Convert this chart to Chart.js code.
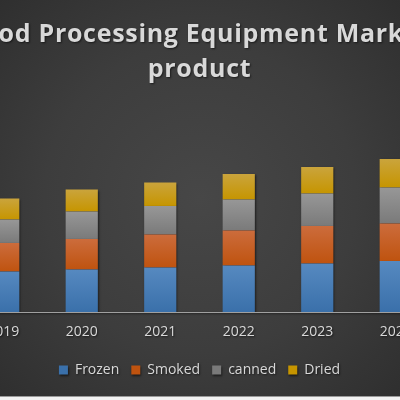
<!DOCTYPE html>
<html>
<head>
<meta charset="utf-8">
<script src="https://cdn.jsdelivr.net/npm/chart.js@4.4.1/dist/chart.umd.min.js"></script>
<style>
  html, body { margin: 0; padding: 0; width: 400px; height: 400px; overflow: hidden; background: #f2f2f2; }
  #frame { position: absolute; left: 0; top: 0; width: 400px; height: 396px; overflow: hidden;
           background: radial-gradient(ellipse at 50% 50%, #474747 0%, #3d3d3d 55%, #2f2f2f 100%);
           border-bottom: 1px solid #9a9a9a; }
  #wrap { position: absolute; left: -36px; top: 0; width: 471px; height: 396px; }
</style>
</head>
<body>
<div id="frame"><div id="wrap"><canvas id="c"></canvas></div></div>
<script>
const years = ['2019', '2020', '2021', '2022', '2023', '2024'];
const frozen = [8.1, 8.5, 8.9, 9.3, 9.7, 10.2];
const smoked = [5.7, 6.1, 6.6, 7.0, 7.5, 7.5];
const canned = [4.7, 5.5, 5.7, 6.2, 6.5, 7.2];
const dried  = [4.2, 4.4, 4.7, 5.1, 5.3, 5.7];
const names = ['Frozen', 'Smoked', 'canned', 'Dried'];
const titleLines = ['Food Processing Equipment Market', 'product'];

const seriesList = [frozen, smoked, canned, dried];
const palette = [
  { solid: '#4a7db6', top: '#5689c0', bottom: '#3a70aa' },
  { solid: '#c75f22', top: '#cc6c3c', bottom: '#bf530f' },
  { solid: '#888888', top: '#979797', bottom: '#7a7a7a' },
  { solid: '#c89d12', top: '#caa43c', bottom: '#c69500' }
];

function segFill(si) {
  return function (ctx) {
    const p = palette[si];
    if (ctx.type !== 'data') return p.solid;
    const chart = ctx.chart;
    const y = chart.scales && chart.scales.y;
    if (!y || !chart.chartArea) return p.solid;
    let base = 0;
    for (let k = 0; k < si; k++) base += seriesList[k][ctx.dataIndex];
    const topV = base + seriesList[si][ctx.dataIndex];
    const y0 = y.getPixelForValue(topV), y1 = y.getPixelForValue(base);
    if (!isFinite(y0) || !isFinite(y1) || y0 === y1) return p.solid;
    const g = chart.ctx.createLinearGradient(0, y0, 0, y1);
    g.addColorStop(0, p.top);
    g.addColorStop(1, p.bottom);
    return g;
  };
}

const shadowPlugin = {
  id: 'shadow',
  beforeDraw(chart) {
    const c = chart.ctx;
    c.shadowColor = 'rgba(0,0,0,0.55)';
    c.shadowBlur = 2;
    c.shadowOffsetX = 1;
    c.shadowOffsetY = 1;
  }
};

const chart = new Chart(document.getElementById('c'), {
  type: 'bar',
  data: {
    labels: years,
    datasets: seriesList.map((arr, i) => ({
      label: names[i],
      data: arr,
      backgroundColor: segFill(i),
      borderWidth: 0,
      barPercentage: 0.41,
      categoryPercentage: 1.0
    }))
  },
  plugins: [shadowPlugin],
  options: {
    responsive: true,
    maintainAspectRatio: false,
    animation: false,
    layout: { padding: { left: 0, right: 0, top: 0, bottom: 9 } },
    plugins: {
      title: {
        display: true,
        text: titleLines,
        color: '#d9d9d9',
        font: { family: 'Open Sans', size: 25, weight: 'bold', lineHeight: 1.4 },
        padding: { top: 17, bottom: 9 }
      },
      legend: {
        position: 'bottom',
        labels: {
          color: '#d9d9d9',
          font: { family: 'Open Sans', size: 14 },
          boxWidth: 9,
          boxHeight: 9,
          padding: 12
        }
      },
      tooltip: { enabled: false }
    },
    scales: {
      x: {
        stacked: true,
        grid: { display: false, drawTicks: false },
        border: { display: true, color: '#a0a0a0', width: 1 },
        ticks: { color: '#d9d9d9', font: { family: 'Open Sans', size: 14, lineHeight: 0.78 }, padding: 14 }
      },
      y: {
        stacked: true,
        display: false,
        min: 0,
        max: 43.2
      }
    }
  }
});

// slightly spaced title lettering, as in the reference
if (chart.titleBlock) {
  const tb = chart.titleBlock;
  const origDraw = tb.draw.bind(tb);
  tb.draw = function () {
    const c = chart.ctx;
    c.save();
    if ('letterSpacing' in c) c.letterSpacing = '0.7px';
    origDraw();
    c.restore();
  };
  chart.draw();
}
</script>
</body>
</html>
